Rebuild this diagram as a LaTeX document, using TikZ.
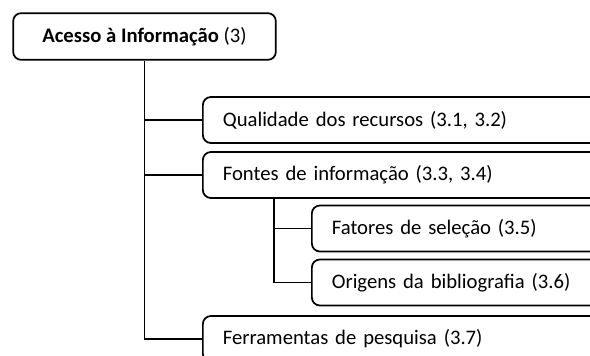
\documentclass[tikz,border=0pt]{standalone}
\usepackage{fontspec}
\setmainfont{Carlito}
\usetikzlibrary{positioning}
\tikzset{
  topicbox/.style={draw,line width=1.3pt,rounded corners=6pt,minimum height=34.5pt,inner xsep=15pt,inner ysep=0pt,anchor=west,text width=300pt,align=left,font=\fontsize{15.5}{18}\selectfont},
  rootbox/.style={draw,line width=1.3pt,rounded corners=6pt,minimum height=35pt,minimum width=197pt,font=\fontsize{15.5}{18}\selectfont},
  branch/.style={line width=1.3pt}
}
\begin{document}
\begin{tikzpicture}[x=0.75pt,y=-0.75pt]
\clip (0,0) rectangle (590,355);
\draw[] (144.5,36.5) node[rootbox] (root) {\textbf{Acesso à Informação} (3)};
\draw[] (202,120) node[topicbox] (qual) {Qualidade dos recursos (3.1, 3.2)};
\draw[] (202,175) node[topicbox] (fontes) {Fontes de informação (3.3, 3.4)};
\draw[] (311,228.5) node[topicbox] (fatores) {Fatores de seleção (3.5)};
\draw[] (311,282.5) node[topicbox] (origens) {Origens da bibliografia (3.6)};
\draw[] (202,339) node[topicbox] (ferram) {Ferramentas de pesquisa (3.7)};
\draw[branch] (root.south) |- (qual.west);
\draw[branch] (root.south) |- (fontes.west);
\draw[branch] (root.south) |- (ferram.west);
\draw[branch] ([xshift=54pt]fontes.south west) |- (fatores.west);
\draw[branch] ([xshift=54pt]fontes.south west) |- (origens.west);
\end{tikzpicture}
\end{document}
